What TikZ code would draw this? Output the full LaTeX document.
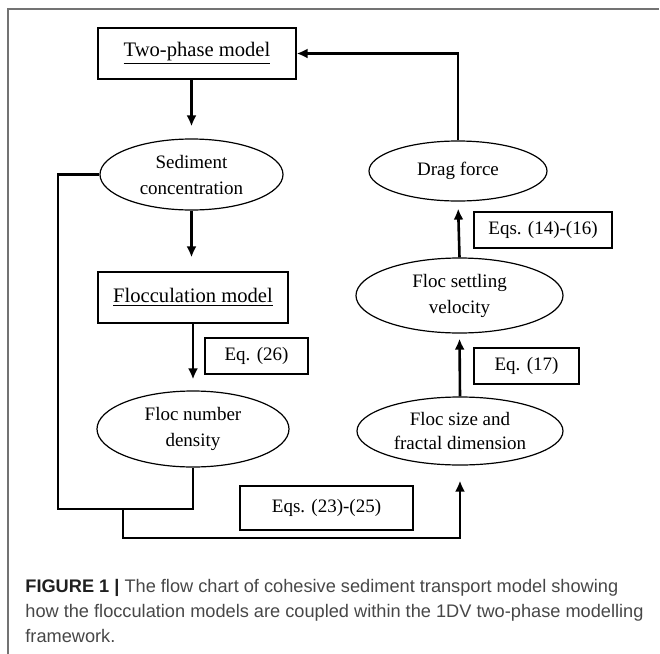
\documentclass[tikz,border=0pt]{standalone}
\usepackage{fontspec}
\setmainfont{Liberation Serif}
\newfontfamily\capfont{Liberation Sans}
\usetikzlibrary{arrows.meta,shapes.geometric}
\tikzset{> = {Latex[length=5.5pt,width=5pt]}}
\tikzset{
	model/.style={draw,line width=0.6pt,inner sep=0pt,font=\fontsize{10.3}{13}\selectfont},
	state/.style={ellipse,draw,line width=0.6pt,inner sep=0pt,align=center,font=\fontsize{9.5}{13}\selectfont},
	eqbox/.style={draw,line width=0.6pt,inner sep=0pt,font=\fontsize{9.5}{13}\selectfont},
	flow/.style={->,line width=1.3pt},
	link/.style={line width=1.3pt},
	captxt/.style={anchor=base west,inner sep=0pt,font=\capfont\fontsize{9.1}{12.5}\selectfont,text=black!72}
}

\begin{document}
\begin{tikzpicture}[x=0.5pt,y=-0.5pt]
	\useasboundingbox (0,0) rectangle (660,654);
	\draw[black!55,line width=0.75pt](8,654)--(8,9)--(659,9);
	% left column
	\node[model,minimum width=99pt,minimum height=25.5pt] (tp) at (197,53.5) {\underline{Two-phase model}};
	\node[state,minimum width=91.5pt,minimum height=35.5pt] (sc) at (191.5,174.5) {Sediment\\concentration};
	\node[model,minimum width=95pt,minimum height=25.5pt] (fm) at (193,297.5) {\underline{Flocculation model}};
	\node[eqbox,minimum width=51.5pt,minimum height=18pt] (eqa) at (256.5,356) {Eq. (26)};
	\node[state,minimum width=96pt,minimum height=38pt] (fn) at (193,429) {Floc number\\density};
	\node[eqbox,minimum width=86.5pt,minimum height=22pt] (eqb) at (326.5,508) {Eqs. (23)-(25)};
	% right column
	\node[state,minimum width=103pt,minimum height=34pt] (fs) at (460,431) {Floc size and\\[-1pt]fractal dimension};
	\node[eqbox,minimum width=52.5pt,minimum height=18pt] (eqc) at (526.5,366) {Eq. (17)};
	\node[state,minimum width=103.5pt,minimum height=37.5pt] (sv) at (459.5,295.5) {Floc settling\\velocity};
	\node[eqbox,minimum width=69pt,minimum height=18pt] (eqd) at (543,230) {Eqs. (14)-(16)};
	\node[state,minimum width=89pt,minimum height=30pt] (df) at (458,171) {Drag force};
	\coordinate (lt) at (58,509);
	\coordinate (jn) at (123,509);
	\coordinate (bt) at (123,538);
	% connectors
	\draw[flow,shorten >=6pt](tp.south -| sc.north)--(sc.north);
	\draw[flow,shorten >=7pt](sc.south)--(sc.south |- fm.north);
	\draw[flow,shorten >=5.5pt](fm.south -| fn.north)--(fn.north);
	\draw[link](sc.west)-|(lt)-|(fn.south);
	\draw[flow,shorten >=7.5pt](jn)--(bt)-|(fs.south);
	\draw[flow,shorten >=2.5pt](fs.north)--(sv.south);
	\draw[flow,shorten >=3.5pt](sv.north)--(df.south);
	\draw[flow](df.north)|-(tp.east);
	% caption
	\node[captxt] (capa) at (25,592) {\textbf{\color{black!88}FIGURE 1 |} The flow chart of cohesive sediment transport model showing};
	\node[captxt] (capb) at (25,617) {how the flocculation models are coupled within the 1DV two-phase modelling};
	\node[captxt] (capc) at (25,642) {framework.};
\end{tikzpicture}
\end{document}
